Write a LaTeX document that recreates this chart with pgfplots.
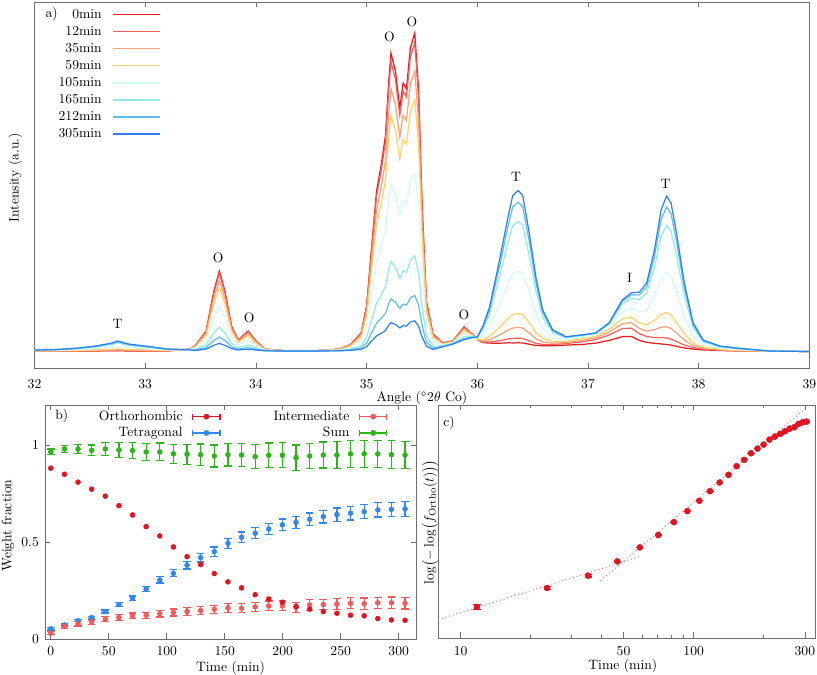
\documentclass[border=0pt]{standalone}
\usepackage{pgfplots}
\usepackage{pgfplotstable}
\pgfplotsset{compat=1.18}
\definecolor{s0}{RGB}{228,26,28}
\definecolor{s12}{RGB}{242,95,90}
\definecolor{s35}{RGB}{248,160,120}
\definecolor{s59}{RGB}{255,210,100}
\definecolor{s105}{RGB}{210,250,248}
\definecolor{s165}{RGB}{145,235,235}
\definecolor{s212}{RGB}{95,190,232}
\definecolor{s305}{RGB}{45,128,235}
\definecolor{cortho}{RGB}{225,20,35}
\definecolor{cinter}{RGB}{245,90,90}
\definecolor{ctetra}{RGB}{50,135,235}
\definecolor{csum}{RGB}{45,180,25}
\definecolor{cfit}{RGB}{245,130,130}
\definecolor{axgray}{RGB}{110,110,110}

\pgfplotstableread{
x c0 c12 c35 c59 c105 c165 c212 c305
32.0   17.0 17.1 17.1 17.2 17.5 17.8 17.9 18.0
32.2   17.0 17.1 17.2 17.3 17.7 18.2 18.4 18.5
32.4   17.1 17.2 17.4 17.6 18.4 19.4 19.8 20.0
32.55  17.1 17.3 17.6 18.1 19.4 21.0 21.6 22.0
32.7   17.2 17.4 18.0 18.7 20.8 23.4 24.4 25.0
32.75  17.2 17.5 18.2 19.1 21.8 25.0 26.3 27.0
32.85  17.1 17.4 17.8 18.5 20.4 22.6 23.5 24.0
33.0   17.1 17.3 17.6 18.1 19.4 21.0 21.6 22.0
33.2   17.0 17.1 17.2 17.4 18.0 18.6 18.9 19.0
33.4   19.0 19.0 18.9 18.8 18.6 18.4 18.3 18.2
33.45  22.0 21.9 21.4 21.0 19.8 18.5 17.9 17.5
33.55  37.0 36.4 34.6 32.8 28.2 23.0 20.5 18.9
33.62  77.0 75.2 69.8 64.4 50.6 35.0 27.5 22.7
33.67  97.0 94.6 87.4 80.2 61.8 41.0 31.0 24.6
33.72  77.0 75.2 69.8 64.4 50.6 35.0 27.5 22.7
33.78  42.0 41.3 39.0 36.8 31.0 24.5 21.4 19.4
33.84  28.0 27.7 26.7 25.7 23.2 20.3 18.9 18.0
33.93  37.0 36.4 34.6 32.8 28.2 23.0 20.5 18.9
34.0   27.0 26.7 25.8 24.9 22.6 20.0 18.8 18.0
34.08  19.0 18.9 18.8 18.6 18.1 17.6 17.4 17.2
34.3   17.0 17.0 17.0 17.0 17.0 17.0 17.0 17.0
34.5   17.0 17.0 17.0 17.0 17.0 17.0 17.0 17.0
34.75  19.0 18.9 18.8 18.6 18.1 17.6 17.4 17.2
34.85  23.0 22.8 22.3 21.7 20.4 18.8 18.1 17.6
34.95  35.0 34.5 32.8 31.2 27.1 22.4 20.2 18.7
35.0   62.0 60.7 56.6 52.6 42.2 30.5 24.9 21.3
35.05  127.0 123.7 113.8 103.9 78.6 50.0 36.3 27.5
35.09  177.0 172.2 157.8 143.4 106.6 65.0 45.0 32.2
35.13  202.0 196.5 179.8 163.2 120.6 72.5 49.4 34.6
35.17  232.0 225.6 206.2 186.9 137.4 81.5 54.6 37.4
35.20  287.0 278.9 254.6 230.3 168.2 98.0 64.3 42.7
35.22  315.0 306.1 279.2 252.4 183.9 106.4 69.2 45.3
35.26  297.0 288.6 263.4 238.2 173.8 101.0 66.0 43.6
35.30  260.0 252.7 230.8 209.0 153.1 89.9 59.5 40.1
35.33  285.0 277.0 252.8 228.7 167.1 97.4 63.9 42.5
35.36  279.0 271.1 247.6 224.0 163.7 95.6 62.9 41.9
35.395 320.0 310.9 283.6 256.4 186.7 107.9 70.0 45.8
35.435 335.0 325.5 296.8 268.2 195.1 112.4 72.7 47.2
35.47  277.0 269.2 245.8 222.4 162.6 95.0 62.5 41.7
35.50  167.0 162.5 149.0 135.5 101.0 62.0 43.3 31.3
35.54  67.0 65.5 61.0 56.5 45.0 32.0 25.8 21.8
35.60  34.0 33.5 32.0 30.4 26.5 22.1 20.0 18.6
35.69  25.1 24.9 24.5 24.1 23.2 22.2 21.6 21.3
35.78  27.1 27.0 26.5 26.2 25.5 24.8 24.3 24.0
35.88  41.2 40.7 39.2 37.9 34.7 31.4 29.5 28.3
35.96  33.2 33.1 32.5 32.1 31.8 31.4 30.9 30.5
36.0   28.3 28.3 28.3 28.4 29.4 30.7 30.9 31.0
36.05  25.5 26.0 26.9 28.3 33.0 38.6 40.6 41.8
36.11  24.9 26.0 28.4 31.5 41.5 53.5 58.0 60.7
36.2   24.8 27.3 33.1 40.6 63.6 90.8 101.3 107.6
36.28  25.2 29.1 38.0 49.7 84.9 126.7 142.9 152.5
36.32  25.1 29.6 40.0 53.6 94.2 142.5 161.3 172.5
36.37  25.2 29.9 40.6 54.6 96.6 146.5 165.9 177.5
36.41  25.1 29.6 40.0 53.6 94.2 142.5 161.3 172.5
36.47  23.8 27.2 35.0 45.2 75.7 112.0 126.0 134.4
36.53  22.5 24.6 29.3 35.5 54.2 76.6 85.2 90.4
36.59  22.3 23.6 26.1 29.5 39.4 51.2 55.7 58.4
36.68  22.2 23.4 24.8 26.4 30.5 35.4 37.3 38.3
36.8   22.9 24.5 25.5 26.6 28.3 30.3 30.9 31.3
36.95  23.6 26.2 27.7 29.1 30.6 32.4 33.0 33.2
37.07  24.9 28.5 30.3 31.9 33.1 34.7 35.0 35.1
37.19  27.6 33.0 35.9 38.6 41.2 43.9 44.7 45.1
37.31  31.4 39.4 44.3 49.1 56.0 63.9 66.6 68.1
37.39  31.6 39.9 45.4 50.9 59.5 69.6 73.0 75.0
37.465 27.6 34.3 39.4 45.0 55.9 68.6 73.2 76.0
37.53  25.7 31.5 37.0 43.3 57.8 74.8 81.2 85.0
37.60  24.6 30.5 38.3 47.5 71.7 100.4 111.4 118.0
37.66  24.1 30.6 40.9 53.7 89.5 131.8 148.2 158.0
37.71  23.5 30.0 41.2 55.3 95.3 142.6 161.0 172.0
37.75  23.0 28.9 39.6 53.0 91.4 136.8 154.4 165.0
37.80  21.7 26.5 34.9 45.6 76.1 112.1 126.1 134.5
37.87  20.1 23.0 28.0 34.1 51.5 72.2 80.2 85.0
37.95  18.9 20.4 22.5 25.0 31.9 40.0 43.1 45.0
38.04  18.1 18.9 19.7 20.7 23.2 26.2 27.3 28.0
38.19  17.5 17.9 18.3 18.7 19.9 21.2 21.7 22.0
38.34  17.1 17.2 17.4 17.6 18.4 19.4 19.8 20.0
38.64  17.0 17.0 17.0 17.0 17.0 17.0 17.0 17.0
39.0   16.5 16.5 16.5 16.5 16.5 16.5 16.5 16.5
}\spectra

\pgfplotstableread{
t ortho tetra terr inter ierr sum serr
0      0.880 0.052 0.006 0.029 0.008 0.964 0.015
11.75  0.849 0.072 0.006 0.064 0.010 0.979 0.020
23.5   0.808 0.094 0.006 0.077 0.011 0.979 0.024
35.25  0.772 0.110 0.007 0.086 0.012 0.972 0.028
47     0.736 0.141 0.008 0.101 0.013 0.979 0.033
58.75  0.687 0.177 0.009 0.110 0.014 0.974 0.037
70.5   0.639 0.210 0.011 0.119 0.015 0.971 0.040
82.25  0.579 0.258 0.013 0.122 0.016 0.964 0.043
94     0.531 0.304 0.016 0.130 0.017 0.964 0.046
105.75 0.474 0.338 0.018 0.136 0.018 0.954 0.049
117.5  0.424 0.380 0.020 0.141 0.019 0.952 0.052
129.25 0.383 0.419 0.022 0.146 0.020 0.950 0.055
141    0.337 0.450 0.024 0.153 0.021 0.943 0.057
152.75 0.294 0.493 0.026 0.160 0.022 0.950 0.059
164.5  0.263 0.524 0.027 0.158 0.023 0.948 0.060
176.25 0.228 0.545 0.028 0.165 0.024 0.940 0.062
188    0.206 0.567 0.029 0.170 0.025 0.947 0.063
199.75 0.189 0.588 0.030 0.170 0.025 0.947 0.064
211.5  0.167 0.601 0.031 0.163 0.026 0.935 0.065
223.25 0.153 0.617 0.032 0.175 0.027 0.943 0.066
235    0.141 0.630 0.033 0.177 0.027 0.948 0.067
246.75 0.132 0.641 0.034 0.179 0.028 0.948 0.068
258.5  0.122 0.648 0.035 0.184 0.028 0.954 0.069
270.25 0.119 0.656 0.036 0.182 0.029 0.954 0.070
282    0.105 0.665 0.037 0.186 0.029 0.954 0.070
293.75 0.098 0.668 0.037 0.186 0.030 0.950 0.071
305.5  0.096 0.670 0.038 0.184 0.030 0.948 0.071
}\fractions

\pgfplotstableread{
t v e
11.75  0.93 0.07
23.5   1.50 0.05
35.25  1.87 0.04
47     2.30 0.0
58.75  2.72 0.0
70.5   3.09 0.0
82.25  3.48 0.0
94     3.81 0.0
105.75 4.12 0.0
117.5  4.41 0.0
129.25 4.67 0.0
141    4.90 0.0
152.75 5.16 0.0
164.5  5.35 0.0
176.25 5.55 0.0
188    5.69 0.0
199.75 5.81 0.0
211.5  5.96 0.0
223.25 6.05 0.0
235    6.13 0.0
246.75 6.21 0.0
258.5  6.29 0.0
270.25 6.33 0.0
282    6.43 0.0
293.75 6.48 0.0
305.5  6.50 0.0
}\avrami

\newcommand{\errleg}[1]{\addlegendimage{legend image code/.code={%
  \draw[#1, line width=0.9pt] (0pt,0pt) -- (20pt,0pt) (0pt,-2.2pt) -- (0pt,2.2pt) (20pt,-2.2pt) -- (20pt,2.2pt);
  \fill[#1] (10pt,0pt) circle (1.9pt);}}}

\begin{document}
\begin{tikzpicture}
\useasboundingbox (0,0) rectangle (600pt,-495.7pt);
\pgfplotsset{every axis/.append style={scale only axis,
  axis line style={draw=axgray}, tick style={draw=axgray, line width=0.5pt},
  tick align=inside, major tick length=4pt, minor tick length=2.5pt,
  tick label style={font=\normalsize}, label style={font=\normalsize}}}

% ---------------- panel a
\begin{axis}[at={(25.34pt,-1.47pt)}, anchor=north west,
  width=569.1pt, height=268.8pt,
  xmin=32, xmax=39, ymin=0, ymax=366,
  xtick={32,33,...,39}, ytick=\empty,
  xticklabel style={yshift=-5pt},
  xlabel={Angle ($^\circ$2$\theta$ Co)},
  xlabel style={at={(axis description cs:0.5,-0.082)}, anchor=center},
  ylabel={Intensity (a.u.)},
  ylabel style={at={(axis description cs:-0.025,0.52)}, anchor=center},
  legend cell align=right, legend plot pos=right,
  legend image code/.code={\draw[#1, line width=1pt] (0pt,0pt) -- (34pt,0pt);},
  legend style={draw=none, fill=none, at={(axis description cs:0.168,0.992)}, anchor=north east,
    nodes={inner sep=1pt, text height=7pt, text depth=1pt}, row sep=2.5pt,
    /tikz/column 1/.style={column sep=7pt}},
  every axis plot/.append style={line width=0.9pt}]
\addplot[s0] table[x=x,y=c0] {\spectra};
\addplot[s12] table[x=x,y=c12] {\spectra};
\addplot[s35] table[x=x,y=c35] {\spectra};
\addplot[s59] table[x=x,y=c59] {\spectra};
\addplot[s105] table[x=x,y=c105] {\spectra};
\addplot[s165] table[x=x,y=c165] {\spectra};
\addplot[s212] table[x=x,y=c212] {\spectra};
\addplot[s305] table[x=x,y=c305] {\spectra};
\legend{0min,12min,35min,59min,105min,165min,212min,305min}
\node at (axis cs:32.75,44) {T};
\node at (axis cs:33.66,110) {O};
\node at (axis cs:33.94,50) {O};
\node at (axis cs:35.207,331) {O};
\node at (axis cs:35.41,346) {O};
\node at (axis cs:35.88,53) {O};
\node at (axis cs:36.35,191) {T};
\node at (axis cs:37.375,90) {I};
\node at (axis cs:37.70,184) {T};
\node at (axis description cs:0.022,0.967) {a)};
\end{axis}

% ---------------- panel b
\begin{axis}[at={(33.05pt,-297.4pt)}, anchor=north west,
  width=272.5pt, height=171.8pt,
  xmin=-5, xmax=315, ymin=0, ymax=1.206,
  xtick={0,50,...,300}, ytick={0,0.5,1},
  xticklabel style={yshift=-2pt}, yticklabel style={xshift=-1pt},
  xlabel={Time (min)},
  xlabel style={at={(axis description cs:0.5,-0.123)}, anchor=center},
  ylabel={Weight fraction},
  ylabel style={at={(axis description cs:-0.1,0.484)}, anchor=center},
  legend columns=2, legend cell align=right, legend plot pos=right,
  legend style={draw=none, fill=none, at={(axis description cs:0.13,0.995)}, anchor=north west,
    nodes={inner sep=1pt, text height=7pt, text depth=2pt}, row sep=1pt,
    /tikz/column 1/.style={column sep=6pt},
    /tikz/column 2/.style={column sep=38pt},
    /tikz/column 3/.style={column sep=6pt}},
  error bars/error bar style={line width=0.9pt},
  error bars/error mark=-,
  error bars/error mark options={rotate=90, mark size=2.8pt, line width=0.9pt}]
\addplot[only marks, mark=*, mark size=1.8pt, color=csum, forget plot,
  error bars/.cd, y dir=both, y explicit] table[x=t, y=sum, y error=serr] {\fractions};
\addplot[only marks, mark=*, mark size=1.8pt, color=ctetra, forget plot,
  error bars/.cd, y dir=both, y explicit] table[x=t, y=tetra, y error=terr] {\fractions};
\addplot[only marks, mark=*, mark size=1.8pt, color=cinter, forget plot,
  error bars/.cd, y dir=both, y explicit] table[x=t, y=inter, y error=ierr] {\fractions};
\addplot[only marks, mark=*, mark size=1.8pt, color=cortho, forget plot] table[x=t, y=ortho] {\fractions};
\errleg{cortho}
\errleg{cinter}
\errleg{ctetra}
\errleg{csum}
\legend{Orthorhombic,Intermediate,Tetragonal,Sum}
\node at (axis description cs:0.045,0.953) {b)};
\end{axis}

% ---------------- panel c
\begin{axis}[at={(321.7pt,-297.4pt)}, anchor=north west,
  width=276.9pt, height=171.1pt,
  xmode=log, xmin=8, xmax=332, ymin=0, ymax=7,
  xtick={10,50,100,300}, xticklabels={10,50,100,300},
  minor xtick={20,30,40,60,70,80,90,200},
  ytick=\empty,
  xticklabel style={yshift=-3pt},
  xlabel={Time (min)},
  xlabel style={at={(axis description cs:0.49,-0.123)}, anchor=center},
  ylabel={$\log\bigl(-\log\bigl(f_{\mathrm{Ortho}}(t)\bigr)\bigr)$},
  ylabel style={at={(axis description cs:-0.021,0.498)}, anchor=center}]
\addplot[cfit, dotted, line width=0.8pt] coordinates {(8,0.55) (59.1,2.45)};
\addplot[cfit, dotted, line width=0.8pt] coordinates {(39.8,1.72) (297,6.85)};
\addplot[only marks, mark=*, mark size=2.2pt, color=cortho,
  error bars/.cd, y dir=both, y explicit, error bar style={line width=0.9pt},
  error mark=-, error mark options={rotate=90, mark size=2.6pt, line width=0.9pt}] table[x=t, y=v, y error=e] {\avrami};
\node at (axis description cs:0.029,0.921) {c)};
\end{axis}
\end{tikzpicture}
\end{document}
